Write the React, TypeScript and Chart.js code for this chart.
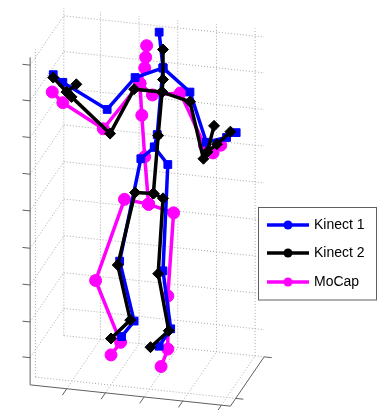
import React, { useEffect, useRef } from "react";
import { Chart, registerables } from "chart.js";
Chart.register(...registerables);

const W = 378;
const H = 417;

// ---- Data: projected joint positions (screen-plane units) ----
// Kinect 1 (20 joints)
const k1X = [158, 162, 156, 153, 133, 104, 58, 48, 190, 207, 228, 238, 139, 117, 132, 119, 167, 162, 170, 158];
const k1Y = [26, 63, 132, 145, 73, 106, 78, 70, 88, 140, 135, 130, 157, 263, 325, 341, 163, 273, 333, 351];
const k1Bones = [
  [0, 1, 2, 3],
  [1, 4, 5, 6, 7],
  [1, 8, 9, 10, 11],
  [3, 12, 13, 14, 15],
  [3, 16, 17, 18, 19],
];

// Kinect 2 (25 joints)
const k2X = [162, 162, 161, 157, 152, 132, 107, 67, 62, 48, 72, 190, 204, 208, 218, 232, 215, 133, 115, 128, 108, 162, 157, 168, 149];
const k2Y = [44, 75, 88, 133, 193, 85, 131, 93, 88, 73, 80, 98, 157, 150, 142, 129, 123, 192, 267, 324, 343, 198, 276, 335, 352];
const k2Bones = [
  [0, 1, 2, 3, 4],
  [2, 5, 6, 7, 8, 9],
  [8, 10],
  [2, 11, 12, 13, 14, 15],
  [13, 16],
  [4, 17, 18, 19, 20],
  [4, 21, 22, 23, 24],
];

// MoCap
const mcX = [145, 144, 143, 138, 140, 143, 147, 100, 58, 47, 151, 180, 205, 214, 222, 122, 92, 118, 108, 173, 167, 167, 160];
const mcY = [40, 52, 63, 79, 112, 155, 204, 126, 99, 88, 91, 89, 143, 151, 143, 199, 283, 347, 360, 213, 299, 354, 372];
const mcBones = [
  [0, 1, 2, 3, 4, 5, 6],
  [3, 7, 8, 9],
  [3, 10, 11, 12, 13, 14],
  [6, 15, 16, 17, 18],
  [6, 19, 20, 21, 22],
];

// Axis tick positions (fractions of the box extent)
const xTicks = [0.183, 0.376, 0.569, 0.762, 0.955];
const yTicks = [0.157, 1.0];
const zTicks = [0.083, 0.192, 0.305, 0.417, 0.531, 0.643, 0.755, 0.867, 0.976];

const legendLabels = ["Kinect 1", "Kinect 2", "MoCap"];
const legendColors = ["#0000ff", "#000000", "#ff00ff"];

// ---- Box projection (layout) ----
const BOX_O = [24, 391];
const EX = [208, 22];
const EY = [35, -51];
const EZ = [0, -339];
const proj = (fx: number, fy: number, fz: number) => ({
  x: BOX_O[0] + fx * EX[0] + fy * EY[0] + fz * EZ[0],
  y: BOX_O[1] + fx * EX[1] + fy * EY[1] + fz * EZ[1],
});
const GAP = { x: null as any, y: null as any };

function skeleton(xs: number[], ys: number[], bones: number[][]) {
  const out: any[] = [];
  bones.forEach((b) => {
    b.forEach((i) => out.push({ x: xs[i], y: ys[i] }));
    out.push(GAP);
  });
  return out;
}

function seg(out: any[], a: any, b: any) {
  out.push(a, b, GAP);
}

function gridData() {
  const out: any[] = [];
  xTicks.forEach((t) => seg(out, proj(t, 1, 0), proj(t, 1, 1)));
  zTicks.forEach((t) => seg(out, proj(0, 1, t), proj(1, 1, t)));
  yTicks.forEach((t) => seg(out, proj(0, t, 0), proj(0, t, 1)));
  zTicks.forEach((t) => seg(out, proj(0, 0, t), proj(0, 1, t)));
  xTicks.forEach((t) => seg(out, proj(t, 0, 0), proj(t, 1, 0)));
  yTicks.forEach((t) => seg(out, proj(0, t, 0), proj(1, t, 0)));
  return out;
}

function axesData() {
  const out: any[] = [];
  seg(out, proj(0, 0, 0), proj(0, 0, 1));
  seg(out, proj(0, 0, 0), proj(1, 0, 0));
  seg(out, proj(1, 0, 0), proj(1, 1, 0));
  const L = 8;
  const exl = Math.hypot(EX[0], EX[1]);
  const eyl = Math.hypot(EY[0], EY[1]);
  zTicks.forEach((t) => {
    const p = proj(0, 0, t);
    seg(out, p, { x: p.x - (EX[0] / exl) * L, y: p.y - (EX[1] / exl) * L });
  });
  xTicks.forEach((t) => {
    const p = proj(t, 0, 0);
    seg(out, p, { x: p.x - (EY[0] / eyl) * L, y: p.y - (EY[1] / eyl) * L });
  });
  yTicks.forEach((t) => {
    const p = proj(1, t, 0);
    seg(out, p, { x: p.x + (EX[0] / exl) * L, y: p.y + (EX[1] / exl) * L });
  });
  return out;
}

const legendPlugin = {
  id: "matlabLegend",
  afterDraw(chart: any) {
    const ctx = chart.ctx;
    ctx.save();
    const bx = 258.5, by = 207.5, bw = 118, bh = 92.5;
    ctx.fillStyle = "#ffffff";
    ctx.fillRect(bx, by, bw, bh);
    ctx.strokeStyle = "#606060";
    ctx.lineWidth = 1;
    ctx.strokeRect(bx, by, bw, bh);
    const ys = [225, 253, 282];
    legendLabels.forEach((label, i) => {
      const y = ys[i];
      ctx.strokeStyle = legendColors[i];
      ctx.lineWidth = 3.5;
      ctx.beginPath();
      ctx.moveTo(267, y);
      ctx.lineTo(309, y);
      ctx.stroke();
      ctx.fillStyle = legendColors[i];
      ctx.beginPath();
      ctx.arc(288, y, 4.5, 0, Math.PI * 2);
      ctx.fill();
      ctx.fillStyle = "#000000";
      ctx.font = '14px "Liberation Sans", Arial, sans-serif';
      ctx.textBaseline = "middle";
      ctx.textAlign = "left";
      ctx.fillText(label, 314, y + 0.5);
    });
    ctx.restore();
  },
};

export default function App() {
  const ref = useRef<HTMLCanvasElement | null>(null);
  useEffect(() => {
    if (!ref.current) return;
    const chart = new Chart(ref.current, {
      type: "scatter",
      data: {
        datasets: [
          {
            label: "grid",
            data: gridData(),
            showLine: true,
            borderColor: "#a8a8a8",
            borderWidth: 1,
            borderDash: [1, 2],
            pointRadius: 0,
            spanGaps: false,
            order: 10,
          },
          {
            label: "axes",
            data: axesData(),
            showLine: true,
            borderColor: "#606060",
            borderWidth: 1,
            pointRadius: 0,
            spanGaps: false,
            order: 9,
          },
          {
            label: "MoCap",
            data: skeleton(mcX, mcY, mcBones),
            showLine: true,
            borderColor: "#ff00ff",
            backgroundColor: "#ff00ff",
            borderWidth: 3.5,
            borderJoinStyle: "round",
            pointStyle: "circle",
            pointRadius: 6,
            pointBorderWidth: 1,
            pointBorderColor: "#ff00ff",
            pointBackgroundColor: "#ff00ff",
            spanGaps: false,
            order: 3,
          },
          {
            label: "Kinect 1",
            data: skeleton(k1X, k1Y, k1Bones),
            showLine: true,
            borderColor: "#0000ff",
            backgroundColor: "#0000ff",
            borderWidth: 3.5,
            borderJoinStyle: "round",
            pointStyle: "rect",
            pointRadius: 5.5,
            pointBorderWidth: 1,
            pointBorderColor: "#0000ff",
            pointBackgroundColor: "#0000ff",
            spanGaps: false,
            order: 2,
          },
          {
            label: "Kinect 2",
            data: skeleton(k2X, k2Y, k2Bones),
            showLine: true,
            borderColor: "#000000",
            backgroundColor: "#000000",
            borderWidth: 3.5,
            borderJoinStyle: "round",
            pointStyle: "rectRot",
            pointRadius: 5.5,
            pointBorderWidth: 1,
            pointBorderColor: "#000000",
            pointBackgroundColor: "#000000",
            spanGaps: false,
            order: 1,
          },
        ],
      },
      options: {
        animation: false,
        responsive: true,
        maintainAspectRatio: false,
        devicePixelRatio: 1,
        layout: { padding: 0 },
        events: [],
        scales: {
          x: { type: "linear", min: 0, max: W, display: false },
          y: { type: "linear", min: 0, max: H, reverse: true, display: false },
        },
        plugins: {
          legend: { display: false },
          tooltip: { enabled: false },
        },
      },
      plugins: [legendPlugin],
    } as any);
    return () => chart.destroy();
  }, []);
  return (
    <div style={{ position: "fixed", left: 0, top: 0, width: W, height: H, background: "#fff" }}>
      <canvas ref={ref} />
    </div>
  );
}
